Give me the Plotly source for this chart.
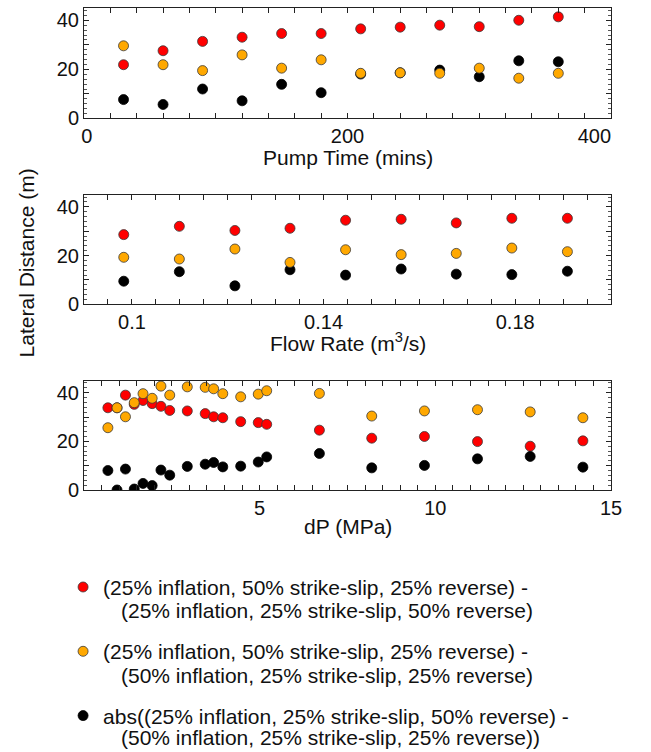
import plotly.graph_objects as go

# ---------------- data ----------------
pump_time = [30, 60, 90, 120, 150, 180, 210, 240, 270, 300, 330, 360]
pump_red = [21.9, 27.6, 31.4, 33.1, 34.6, 34.6, 36.5, 37.2, 38.0, 37.4, 40.0, 41.4]
pump_orange = [29.6, 21.9, 19.5, 25.9, 20.5, 23.9, 18.4, 18.6, 18.4, 20.5, 16.4, 18.4]
pump_black = [7.7, 5.7, 12.0, 7.2, 13.9, 10.5, 18.1, 18.6, 19.7, 17.0, 23.5, 23.1]

flow_rate = [0.0983, 0.1099, 0.1215, 0.1330, 0.1446, 0.1562, 0.1677, 0.1793, 0.1909]
flow_red = [28.6, 32.0, 30.3, 31.2, 34.5, 34.9, 33.4, 35.3, 35.3]
flow_orange = [19.3, 18.6, 22.7, 17.2, 22.4, 20.4, 20.9, 23.1, 21.6]
flow_black = [9.5, 13.4, 7.6, 14.2, 12.0, 14.5, 12.4, 12.2, 13.6]

dp = [0.68, 0.94, 1.18, 1.43, 1.68, 1.94, 2.19, 2.44, 2.94, 3.45, 3.69, 3.95,
      4.46, 4.96, 5.2, 6.7, 8.19, 9.69, 11.2, 12.7, 14.2]
dp_red = [33.8, 33.8, 39.0, 35.2, 36.8, 35.5, 34.4, 32.7, 32.5, 31.4, 30.1, 29.7,
          28.1, 27.7, 27.0, 24.6, 21.3, 22.0, 19.9, 18.0, 20.2]
dp_orange = [25.6, 33.8, 30.1, 35.9, 39.6, 37.7, 42.7, 39.0, 42.4, 42.2, 41.6, 39.6,
             38.3, 39.4, 40.8, 39.7, 30.4, 32.5, 33.0, 32.1, 29.7]
dp_black = [8.0, 0.0, 8.6, 0.4, 2.7, 1.8, 8.2, 6.1, 9.7, 10.6, 11.3, 9.5,
            9.8, 11.5, 13.6, 15.0, 9.1, 10.1, 12.8, 13.8, 9.4]

series_first_lines = [
    "(25% inflation, 50% strike-slip, 25% reverse) -",
    "(25% inflation, 50% strike-slip, 25% reverse) -",
    "abs((25% inflation, 25% strike-slip, 50% reverse) -",
]
series_second_lines = [
    "(25% inflation, 25% strike-slip, 50% reverse)",
    "(50% inflation, 25% strike-slip, 25% reverse)",
    "(50% inflation, 25% strike-slip, 25% reverse))",
]
series_colors = ["#ff0000", "#ffa800", "#000000"]

x_titles = ["Pump Time (mins)", "Flow Rate (m<sup>3</sup>/s)", "dP (MPa)"]
y_title = "Lateral Distance (m)"

FONT = "Liberation Sans, Arial, sans-serif"
TXT = "#111111"

# ---------------- figure ----------------
fig = go.Figure()

panels = [
    ("x", "y", pump_time, [pump_red, pump_orange, pump_black]),
    ("x2", "y2", flow_rate, [flow_red, flow_orange, flow_black]),
    ("x3", "y3", dp, [dp_red, dp_orange, dp_black]),
]

draw_order = [0, 2, 1]  # orange drawn on top
for p, (xa, ya, xs, ys) in enumerate(panels):
    for k in draw_order:
        col = series_colors[k]
        fig.add_trace(go.Scatter(
            x=xs, y=ys[k], xaxis=xa, yaxis=ya, mode="markers",
            name=series_first_lines[k], legendgroup=f"g{k}", legendrank=k + 1,
            showlegend=(p == 0),
            marker=dict(size=10, color=col,
                        line=dict(width=0.8, color="#3a3a3a" if k != 2 else "#000000")),
            hoverinfo="x+y",
        ))

axis_line = dict(showline=True, linecolor="#222222", linewidth=1, mirror="ticks",
                 ticks="inside", tickcolor="#222222", ticklen=5, tickwidth=1,
                 showgrid=False, zeroline=False,
                 tickfont=dict(family=FONT, size=20, color=TXT))

# plot area: top 7px, bottom 490px
T, B = 7.0, 490.0
H = B - T
def yp(px):
    return (B - px) / H
def xp(px):
    return (px - 84.0) / 554.0

ydom = [[yp(117.7), 1.0], [yp(304), yp(194)], [0.0, yp(380.3)]]
yaxis_common = dict(range=[0, 45], tickvals=[0, 10, 20, 30, 40],
                    ticktext=["0", "", "20", "", "40"],
                    minor=dict(dtick=2, tick0=0, ticks="inside", ticklen=3,
                               tickcolor="#555555", tickwidth=1),
                    **axis_line)

fig.update_layout(
    width=651, height=752,
    margin=dict(l=84, r=13, t=7, b=262),
    paper_bgcolor="white", plot_bgcolor="white",
    font=dict(family=FONT, size=20, color=TXT),
    xaxis=dict(range=[0, 400], tickvals=[0, 200, 400],
               ticktext=["\u00a00", "200", "400" + "\u00a0" * 6],
               ticklabeloverflow="allow",
               minor=dict(dtick=20, tick0=0, ticks="inside", ticklen=5,
                          tickcolor="#222222"),
               anchor="y", **axis_line),
    xaxis2=dict(range=[0.09, 0.2], tickvals=[0.1, 0.14, 0.18],
                ticktext=["0.1", "0.14", "0.18"],
                minor=dict(dtick=0.005, tick0=0, ticks="inside", ticklen=5,
                           tickcolor="#222222"),
                anchor="y2", **axis_line),
    xaxis3=dict(range=[0, 15], tickvals=[5, 10, 15],
                ticktext=["5", "10", "15"], ticklabeloverflow="allow",
                minor=dict(dtick=0.5, tick0=0, ticks="inside", ticklen=5,
                           tickcolor="#222222"),
                anchor="y3", **axis_line),
    yaxis=dict(domain=ydom[0], anchor="x", **yaxis_common),
    yaxis2=dict(domain=ydom[1], anchor="x2", **yaxis_common),
    yaxis3=dict(domain=ydom[2], anchor="x3", **yaxis_common),
    showlegend=True,
    legend=dict(x=xp(62), y=yp(567), xanchor="left", yanchor="top",
                font=dict(family=FONT, size=21, color=TXT),
                traceorder="grouped", tracegroupgap=34,
                bgcolor="rgba(0,0,0,0)", itemclick=False),
)

ann = []
title_pos = [(0.5, yp(157)), (0.5, yp(342)), (0.5, yp(527))]
for t, (xx, yy) in zip(x_titles, title_pos):
    ann.append(dict(text=t, x=xx, y=yy, xref="paper", yref="paper",
                    xanchor="center", yanchor="middle", showarrow=False,
                    font=dict(family=FONT, size=21, color=TXT)))
ann.append(dict(text=y_title, x=xp(24), y=yp(262), xref="paper", yref="paper",
                xanchor="center", yanchor="middle", showarrow=False, textangle=-90,
                font=dict(family=FONT, size=21, color=TXT)))
# continuation lines of the legend entries
for t, ypx in zip(series_second_lines, [610.4, 675.9, 738.3]):
    ann.append(dict(text=t, x=xp(121), y=yp(ypx), xref="paper", yref="paper",
                    xanchor="left", yanchor="middle", showarrow=False,
                    font=dict(family=FONT, size=21, color=TXT)))
fig.update_layout(annotations=ann)

fig.write_html("out.html")
